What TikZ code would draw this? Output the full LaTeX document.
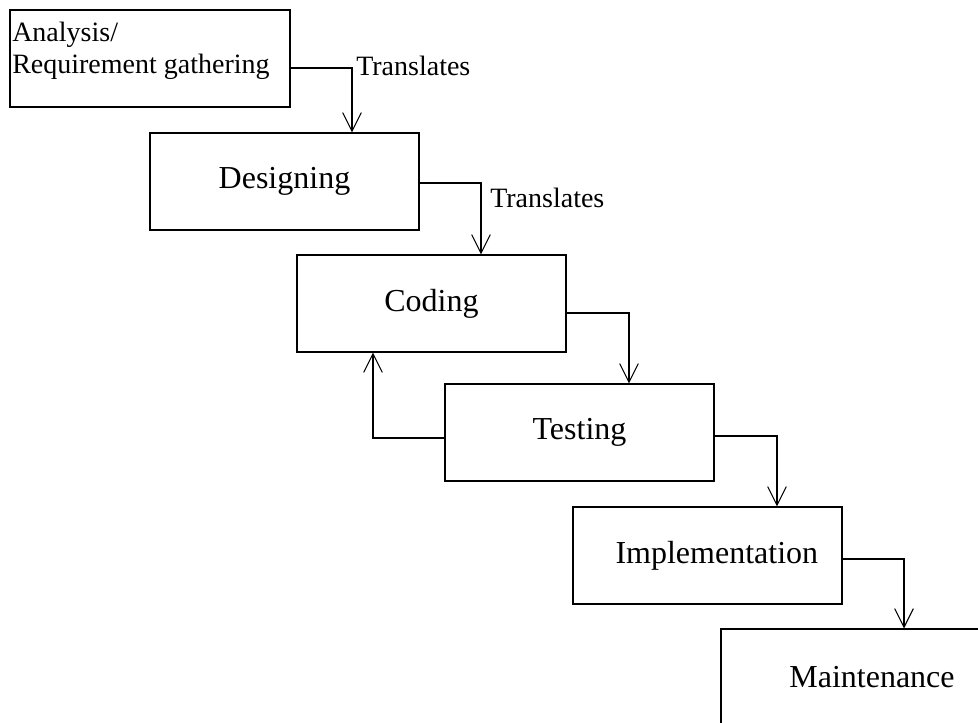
\documentclass[tikz,border=0pt]{standalone}
\usepackage{fontspec}
\setmainfont{Liberation Serif}
\usetikzlibrary{calc, arrows.meta}

\begin{document}
\begin{tikzpicture}[x=0.75pt, y=-0.75pt,
		stage/.style = {draw, line width=0.8pt, minimum width=201.75pt, minimum height=72.75pt, inner sep=0pt, font=\fontsize{24}{28}\selectfont},
		flow/.style = {line width=0.8pt, -{Straight Barb[length=14pt, width=14pt]}},
		note/.style = {inner sep=0pt, font=\fontsize{21}{24}\selectfont}]
		\clip (0,0) rectangle (978,722);
		
		%stages
		\node [stage, minimum width=210pt] (analysis) at (150,58.5) {};
		\node [note, anchor=north west, align=left] (analysis text) at (12,22) {Analysis/\\Requirement gathering};
		\node [stage] (designing) at (284.5,181.5) {Designing};
		\node [stage] (coding) at (431.5,303.5) {Coding};
		\node [stage] (testing) at (579.5,432.5) {Testing};
		\node [stage] (implementation) at (707.5,555.5) {\hspace*{14pt}Implementation};
		\node [stage, minimum width=226.5pt] (maintenance) at (872,677.5) {Maintenance};
		
		%flow
		\draw [flow] ($ (analysis.east) + (0,9.5) $) -| ($ (designing.north) + (67.5,0) $);
		\draw [flow] ($ (designing.east) + (0,1.5) $) -| ($ (coding.north) + (49.5,0) $);
		\draw [flow] ($ (coding.east) + (0,9.5) $) -| ($ (testing.north) + (49.5,0) $);
		\draw [flow] ($ (testing.east) + (0,3.5) $) -| ($ (implementation.north) + (69.5,0) $);
		\draw [flow] ($ (implementation.east) + (0,3.5) $) -| ($ (maintenance.north) + (32,0) $);
		\draw [flow] ($ (testing.west) + (0,5.5) $) -| ($ (coding.south) + (-58.5,0) $);
		
		\node [note, anchor=base west] (translates a) at (356,75) {Translates};
		\node [note, anchor=base west] (translates b) at (490,207) {Translates};
	\end{tikzpicture}
\end{document}
